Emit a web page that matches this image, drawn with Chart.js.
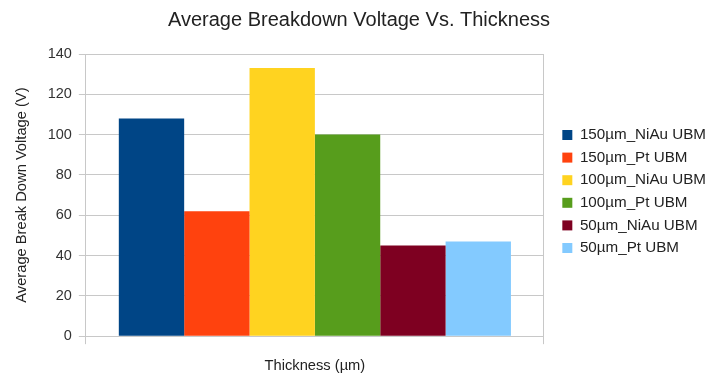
<!DOCTYPE html>
<html>
<head>
<meta charset="utf-8">
<script src="https://cdn.jsdelivr.net/npm/chart.js@4/dist/chart.umd.min.js"></script>
<style>
  html, body { margin: 0; padding: 0; background: #fff; }
  #wrap { width: 709px; height: 379px; position: relative; }
</style>
</head>
<body>
<div id="wrap"><canvas id="chart"></canvas></div>
<script>
// Chart data
const categories = [''];
const seriesNames = ['150µm_NiAu UBM', '150µm_Pt UBM', '100µm_NiAu UBM', '100µm_Pt UBM', '50µm_NiAu UBM', '50µm_Pt UBM'];
const seriesValues = [108, 62, 133, 100, 45, 47];
const seriesColors = ['#004586', '#ff420e', '#ffd320', '#579d1c', '#7e0021', '#83caff'];
const yTicks = [0, 20, 40, 60, 80, 100, 120, 140];

const FONT = 'Liberation Sans';
const TEXT = '#333';
const GRID = '#c8c8c8';

const datasets = seriesNames.map((name, i) => ({
    label: name,
    data: [seriesValues[i]],
    backgroundColor: seriesColors[i],
    borderWidth: 0,
    categoryPercentage: 0.856,
    barPercentage: 1
}));

// push the legend items a bit away from the plot area
const legendShift = {
    id: 'legendShift',
    afterLayout(chart) {
        if (chart.legend) chart.legend.left += 11;
    }
};

new Chart(document.getElementById('chart').getContext('2d'), {
    type: 'bar',
    data: { labels: categories, datasets },
    plugins: [legendShift],
    options: {
        responsive: true,
        maintainAspectRatio: false,
        animation: false,
        layout: { padding: { left: 13, right: 4, top: 8, bottom: 4 } },
        plugins: {
            title: {
                display: true,
                text: 'Average Breakdown Voltage Vs. Thickness',
                color: '#222',
                font: { family: FONT, size: 20, weight: 'normal' },
                padding: { top: 0, bottom: 22 }
            },
            legend: {
                position: 'right',
                labels: {
                    color: '#222',
                    font: { family: FONT, size: 15.2 },
                    boxWidth: 10,
                    boxHeight: 10,
                    padding: 7.4
                }
            },
            tooltip: { enabled: false }
        },
        scales: {
            x: {
                grid: { color: GRID, offset: true, tickLength: 8, drawTicks: true },
                border: { color: GRID },
                ticks: { display: true, color: TEXT, font: { family: FONT, size: 8.5 }, padding: 0 },
                title: {
                    display: true,
                    text: 'Thickness (µm)',
                    color: '#222',
                    font: { family: FONT, size: 14.7 },
                    padding: { top: 3, bottom: 0 }
                }
            },
            y: {
                min: 0,
                max: 140,
                afterBuildTicks: axis => { axis.ticks = yTicks.map(v => ({ value: v })); },
                grid: { color: GRID, tickLength: 7 },
                border: { color: GRID },
                ticks: { color: TEXT, font: { family: FONT, size: 14.5 }, padding: 7 },
                title: {
                    display: true,
                    text: 'Average Break Down Voltage (V)',
                    color: '#222',
                    font: { family: FONT, size: 14.7 },
                    padding: { top: 0, bottom: 10 }
                }
            }
        }
    }
});
</script>
</body>
</html>
